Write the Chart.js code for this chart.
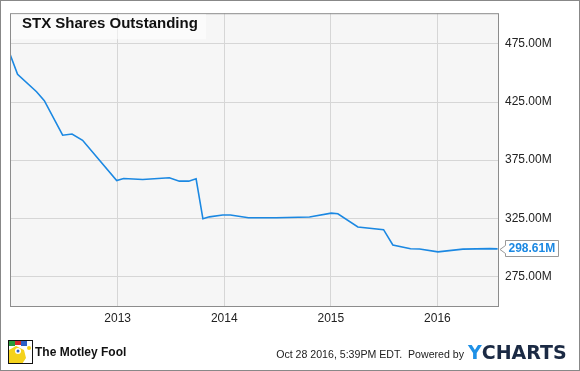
<!DOCTYPE html>
<html>
<head>
<meta charset="utf-8">
<script src="https://cdn.jsdelivr.net/npm/chart.js@4.4.0/dist/chart.umd.min.js"></script>
<style>
  html, body { margin: 0; padding: 0; background: #fff; }
  #c { display: block; }
</style>
</head>
<body>
<canvas id="c" width="580" height="371"></canvas>
<script>
// quarterly-ish observations, x as decimal year
var dates = [2011.993, 2012.061, 2012.239, 2012.312, 2012.484, 2012.572, 2012.671, 2012.991,
  2013.056, 2013.235, 2013.485, 2013.579, 2013.667, 2013.736, 2013.800, 2013.861, 2013.986,
  2014.058, 2014.227, 2014.487, 2014.800, 2015.004, 2015.066, 2015.254, 2015.495, 2015.582,
  2015.748, 2015.833, 2016.005, 2016.239, 2016.490, 2016.565];
var shares = [465.4, 448.9, 433.8, 426.2, 396.4, 397.5, 392.1, 357.5,
  359.2, 358.3, 359.8, 356.9, 356.9, 358.9, 324.5, 326.2, 327.8,
  327.8, 325.4, 325.4, 326.1, 329.4, 328.8, 317.5, 315.2, 302.0,
  298.8, 298.5, 296.1, 298.4, 298.9, 298.61];
var yearTicks = [2013, 2014, 2015, 2016];
var valueTicks = [275, 325, 375, 425, 475];
var chartTitle = "STX Shares Outstanding";
var lastLabel = "298.61M";

var lineColor = "#1b88e2";

function drawFoolLogo(ctx) {
  // rough jester icon
  ctx.save();
  ctx.fillStyle = "#fff";
  ctx.fillRect(8, 340, 25, 24);
  ctx.fillStyle = "#f4d21c";
  ctx.beginPath();
  ctx.moveTo(9, 364); ctx.lineTo(9, 350); ctx.lineTo(16, 346); ctx.lineTo(24, 350);
  ctx.lineTo(26, 358); ctx.lineTo(22, 364); ctx.closePath(); ctx.fill();
  ctx.fillStyle = "#2a9a3a"; ctx.fillRect(9, 341, 6, 5);
  ctx.fillStyle = "#d8262b"; ctx.fillRect(15, 340, 6, 5);
  ctx.fillStyle = "#2c5fc8"; ctx.fillRect(21, 341, 6, 5);
  ctx.fillStyle = "#fff"; ctx.beginPath(); ctx.arc(18, 351, 3, 0, Math.PI * 2); ctx.fill();
  ctx.fillStyle = "#2c5fc8"; ctx.beginPath(); ctx.arc(18, 351, 1.5, 0, Math.PI * 2); ctx.fill();
  ctx.fillStyle = "#f4d21c"; ctx.beginPath(); ctx.arc(29, 348, 2, 0, Math.PI * 2); ctx.fill();
  ctx.strokeStyle = "#111"; ctx.lineWidth = 1;
  ctx.strokeRect(8.5, 340.5, 24, 23);
  ctx.restore();
}

var decor = {
  id: "decor",
  beforeDraw: function (chart) {
    var ctx = chart.ctx, a = chart.chartArea;
    ctx.save();
    ctx.fillStyle = "#fff";
    ctx.fillRect(0, 0, chart.width, chart.height);
    ctx.fillStyle = "#f6f6f6";
    ctx.fillRect(a.left, a.top, a.right - a.left, a.bottom - a.top);
    ctx.restore();
  },
  afterDraw: function (chart) {
    var ctx = chart.ctx, a = chart.chartArea;
    var ys = chart.scales.y;
    ctx.save();
    // plot border
    ctx.strokeStyle = "#8c8c8c"; ctx.lineWidth = 1;
    ctx.strokeRect(a.left + 0.5, a.top + 0.5, a.right - a.left - 1, a.bottom - a.top);
    // outer border
    ctx.strokeStyle = "#888";
    ctx.strokeRect(0.5, 0.5, chart.width - 1, chart.height - 1);
    // title box
    ctx.fillStyle = "rgba(255,255,255,0.55)";
    ctx.fillRect(a.left + 1, a.top + 1, 195, 25);
    ctx.fillStyle = "#111";
    ctx.font = "bold 15px 'Liberation Sans', Arial, sans-serif";
    ctx.textBaseline = "middle";
    ctx.fillText(chartTitle, 22, 24);
    // last value callout
    var ly = Math.round(ys.getPixelForValue(shares[shares.length - 1])) + 0.5;
    var bx = 505.5, bw = 53, bh = 16;
    ctx.beginPath();
    ctx.moveTo(a.right + 1, ly);
    ctx.lineTo(bx, ly - 4);
    ctx.lineTo(bx, ly - bh / 2 - 1);
    ctx.lineTo(bx + bw, ly - bh / 2 - 1);
    ctx.lineTo(bx + bw, ly + bh / 2 - 1);
    ctx.lineTo(bx, ly + bh / 2 - 1);
    ctx.lineTo(bx, ly + 4);
    ctx.closePath();
    ctx.fillStyle = "#fff"; ctx.fill();
    ctx.strokeStyle = "#999"; ctx.stroke();
    ctx.fillStyle = lineColor;
    ctx.font = "bold 12px 'Liberation Sans', Arial, sans-serif";
    ctx.fillText(lastLabel, bx + 3, ly - 0.5);
    // footer
    drawFoolLogo(ctx);
    ctx.fillStyle = "#111";
    ctx.font = "bold 12px 'Liberation Sans Narrow', 'Liberation Sans', Arial, sans-serif";
    ctx.fillText("The Motley Fool", 35, 353);
    ctx.fillStyle = "#222";
    ctx.font = "10.6px 'Liberation Sans', Arial, sans-serif";
    ctx.textAlign = "right";
    ctx.fillText("Oct 28 2016, 5:39PM EDT.  Powered by", 464, 355);
    ctx.textAlign = "left";
    ctx.font = "bold 19px 'DejaVu Sans', Arial, sans-serif";
    ctx.fillStyle = "#1e90e6";
    ctx.fillText("Y", 468, 354);
    ctx.fillStyle = "#1b2a44";
    ctx.fillText("CHARTS", 468 + ctx.measureText("Y").width, 354);
    ctx.restore();
  }
};

var points = dates.map(function (d, i) { return { x: d, y: shares[i] }; });

new Chart(document.getElementById("c"), {
  type: "line",
  data: {
    datasets: [{
      data: points,
      borderColor: lineColor,
      borderWidth: 1.6,
      pointRadius: 0,
      tension: 0,
      fill: false
    }]
  },
  options: {
    responsive: false,
    animation: false,
    devicePixelRatio: 1,
    layout: { padding: { left: 10, top: 10, right: 0, bottom: 0 } },
    plugins: { legend: { display: false }, tooltip: { enabled: false }, title: { display: false } },
    scales: {
      x: {
        type: "linear",
        min: 2011.99,
        max: 2016.578,
        afterBuildTicks: function (s) { s.ticks = yearTicks.map(function (v) { return { value: v }; }); },
        afterFit: function (s) { s.height = 65; },
        grid: { color: "#d6d6d6", drawTicks: false },
        border: { display: false },
        ticks: {
          padding: 5,
          color: "#222",
          font: { family: "'Liberation Sans', Arial, sans-serif", size: 12 },
          maxRotation: 0,
          callback: function (v) { return String(v); }
        }
      },
      y: {
        position: "right",
        min: 249.5,
        max: 501.4,
        afterBuildTicks: function (s) { s.ticks = valueTicks.map(function (v) { return { value: v }; }); },
        afterFit: function (s) { s.width = 81; },
        grid: { color: "#d6d6d6", drawTicks: false },
        border: { display: false },
        ticks: {
          padding: 6,
          color: "#222",
          font: { family: "'Liberation Sans', Arial, sans-serif", size: 12 },
          callback: function (v) { return v.toFixed(2) + "M"; }
        }
      }
    }
  },
  plugins: [decor]
});
</script>
</body>
</html>
